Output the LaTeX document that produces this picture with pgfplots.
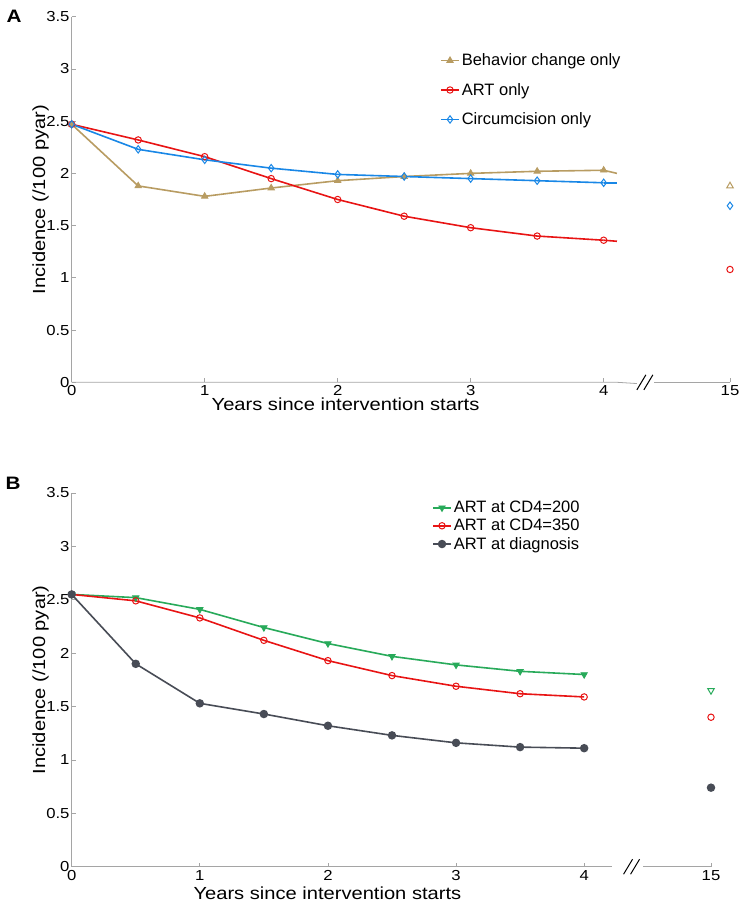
\documentclass[border=0pt]{standalone}
\usepackage{fontspec}
\setmainfont{Liberation Sans}
\newfontfamily\widefont[FakeStretch=1.15]{Liberation Sans}
\usepackage{pgfplots}
\pgfplotsset{compat=1.18}

\definecolor{tanc}{RGB}{184,156,98}
\definecolor{redc}{RGB}{232,20,20}
\definecolor{bluec}{RGB}{25,135,230}
\definecolor{greenc}{RGB}{40,170,90}
\definecolor{grayc}{RGB}{72,76,86}
\definecolor{axc}{RGB}{165,165,165}

\pgfplotsset{panel/.style={
  scale only axis, axis lines=left,
  axis line style={-, draw=axc, line width=0.8pt},
  x axis line style={draw=none},
  xmin=0, ymin=0, ymax=3.5,
  ytick={0,0.5,1,1.5,2,2.5,3,3.5},
  yticklabels={0,0.5,1,1.5,2,2.5,3,3.5},
  tick align=inside, major tick length=4pt,
  tick style={axc, line width=0.8pt},
  ticklabel style={font=\widefont\fontsize{14.5}{16}\selectfont},
  yticklabel style={inner xsep=2pt},
  /pgf/number format/assume math mode=true,
  label style={font=\widefont\fontsize{17.5}{20}\selectfont},
  ylabel={Incidence (/100 pyar)},
  xlabel={Years since intervention starts},
  y label style={at={([xshift=-31pt]rel axis cs:0,0.5)}, anchor=center},
  clip=false,
  legend style={draw=none, fill=none, font=\fontsize{16.5}{18}\selectfont,
    anchor=west, inner sep=0pt, cells={anchor=west}},
  legend image code/.code={\draw[mark repeat=2,mark phase=2,#1]
    plot coordinates {(0pt,0pt) (9pt,0pt) (18pt,0pt)};},
  every axis plot/.append style={line width=1.6pt},
}}

\begin{document}
\begin{tikzpicture}
\path[use as bounding box] (0,0) rectangle (744pt,908pt);

% panel A
\begin{axis}[panel, at={(71.7pt,525.7pt)}, anchor=south west,
  width=658.3pt, height=365.6pt, xmax=4.95,
  xtick={0,1,2,3,4,4.95}, xticklabels={0,1,2,3,4,15},
  x label style={at={([yshift=-22pt]rel axis cs:0.416,0)}, anchor=center},
  legend style={at={(rel axis cs:0.5595,0.7995)}, row sep=12pt}]
\addplot[tanc, mark=triangle*, mark size=3.7pt, mark options={line width=0.8pt}] coordinates {
 (0,2.47) (0.5,1.88) (1,1.78) (1.5,1.86) (2,1.93) (2.5,1.97) (3,2.00) (3.5,2.02) (4,2.03)};
\addlegendentry{Behavior change only}
\addplot[redc, mark=o, mark size=3.2pt, mark options={line width=1pt}] coordinates {
 (0,2.47) (0.5,2.32) (1,2.16) (1.5,1.95) (2,1.75) (2.5,1.59) (3,1.48) (3.5,1.40) (4,1.36)};
\addlegendentry{ART only}
\addplot[bluec, mark=diamond, mark size=3.7pt, mark options={line width=1pt}] coordinates {
 (0,2.47) (0.5,2.23) (1,2.13) (1.5,2.05) (2,1.99) (2.5,1.97) (3,1.95) (3.5,1.93) (4,1.91)};
\addlegendentry{Circumcision only}
% short tails past year 4
\addplot[tanc, forget plot] coordinates {(4,2.03) (4.1,2.00)};
\addplot[redc, forget plot] coordinates {(4,1.36) (4.1,1.35)};
\addplot[bluec, forget plot] coordinates {(4,1.91) (4.1,1.91)};
% year 15
\addplot[tanc, only marks, mark=triangle, mark size=3.7pt, mark options={line width=1pt}, forget plot] coordinates {(4.95,1.88)};
\addplot[redc, only marks, mark=o, mark size=3.2pt, mark options={line width=1pt}, forget plot] coordinates {(4.95,1.08)};
\addplot[bluec, only marks, mark=diamond, mark size=3.7pt, mark options={line width=1pt}, forget plot] coordinates {(4.95,1.69)};
% broken x axis
\draw[axc, line width=0.8pt] (axis cs:0,0) -- (axis cs:4.1,0) -- (axis cs:4.25,-0.012);
\draw[axc, line width=0.8pt] (axis cs:4.38,0) -- (axis cs:4.95,0);
\draw[black, line width=1pt] ([xshift=-8pt,yshift=-7.5pt]axis cs:4.31,0) -- ++(9pt,15pt);
\draw[black, line width=1pt] ([xshift=-1pt,yshift=-7.5pt]axis cs:4.31,0) -- ++(9pt,15pt);
\end{axis}

% panel B
\begin{axis}[panel, at={(71.7pt,41.3pt)}, anchor=south west,
  width=639.3pt, height=373.7pt, xmax=4.99,
  xtick={0,1,2,3,4,4.99}, xticklabels={0,1,2,3,4,15},
  x label style={at={([yshift=-27pt]rel axis cs:0.40,0)}, anchor=center},
  legend style={at={(rel axis cs:0.5636,0.9117)}, row sep=1pt}]
\addplot[greenc, mark=triangle*, mark size=3.7pt, mark options={rotate=180, line width=0.8pt}] coordinates {
 (0,2.55) (0.5,2.52) (1,2.41) (1.5,2.24) (2,2.09) (2.5,1.97) (3,1.89) (3.5,1.83) (4,1.80)};
\addlegendentry{ART at CD4=200}
\addplot[redc, mark=o, mark size=3.2pt, mark options={line width=1pt}] coordinates {
 (0,2.55) (0.5,2.49) (1,2.33) (1.5,2.12) (2,1.93) (2.5,1.79) (3,1.69) (3.5,1.62) (4,1.59)};
\addlegendentry{ART at CD4=350}
\addplot[grayc, mark=*, mark size=3.4pt] coordinates {
 (0,2.55) (0.5,1.90) (1,1.53) (1.5,1.43) (2,1.32) (2.5,1.23) (3,1.16) (3.5,1.12) (4,1.11)};
\addlegendentry{ART at diagnosis}
% year 15
\addplot[greenc, only marks, mark=triangle, mark size=3.7pt, mark options={rotate=180, line width=1pt}, forget plot] coordinates {(4.99,1.65)};
\addplot[redc, only marks, mark=o, mark size=3.2pt, mark options={line width=1pt}, forget plot] coordinates {(4.99,1.40)};
\addplot[grayc, only marks, mark=*, mark size=3.4pt, forget plot] coordinates {(4.99,0.74)};
% broken x axis
\draw[axc, line width=0.8pt] (axis cs:0,0) -- (axis cs:4.22,0);
\draw[axc, line width=0.8pt] (axis cs:4.46,0) -- (axis cs:4.99,0);
\draw[black, line width=1pt] ([xshift=-8pt,yshift=-7.5pt]axis cs:4.37,0) -- ++(9pt,15pt);
\draw[black, line width=1pt] ([xshift=-1pt,yshift=-7.5pt]axis cs:4.37,0) -- ++(9pt,15pt);
\end{axis}

\node[font=\widefont\bfseries\fontsize{18}{20}\selectfont] at (14pt,892pt) {A};
\node[font=\widefont\bfseries\fontsize{18}{20}\selectfont] at (13pt,425pt) {B};
\end{tikzpicture}
\end{document}
